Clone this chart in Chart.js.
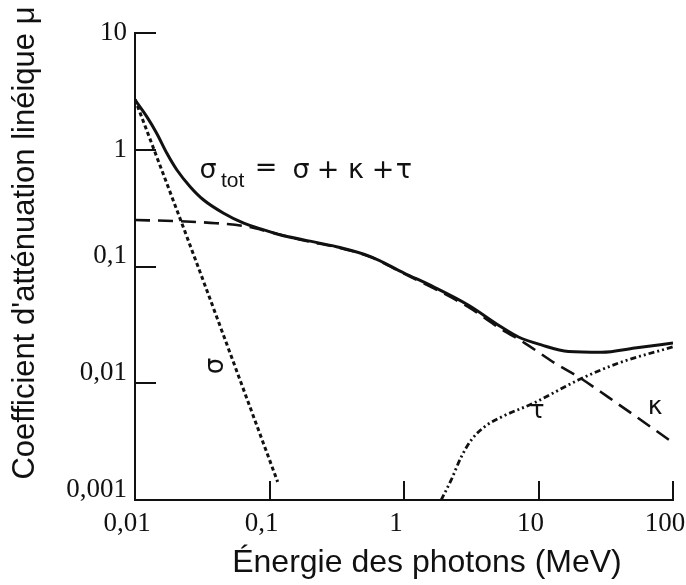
<!DOCTYPE html>
<html lang="fr">
<head>
<meta charset="utf-8">
<title>Coefficient d'atténuation linéique</title>
<script src="https://cdn.jsdelivr.net/npm/chart.js"></script>
<style>
  html, body { margin: 0; padding: 0; background: #fff; }
  #wrap { width: 686px; height: 585px; }
</style>
</head>
<body>
<div id="wrap"><canvas id="chart" width="686" height="585"></canvas></div>
<script>
// valeurs (E en MeV, mu)
const energyTotal = [0.01, 0.01223, 0.01452, 0.01726, 0.0205, 0.0257, 0.0324, 0.0456, 0.0643, 0.0908, 0.121, 0.18, 0.32, 0.57, 1, 1.67, 3, 5.3, 7.1, 10.5, 16.7, 29.5, 52, 100];
const muTotal = [2.67, 1.92, 1.38, 0.933, 0.671, 0.483, 0.371, 0.286, 0.235, 0.206, 0.186, 0.169, 0.147, 0.121, 0.088, 0.0667, 0.0468, 0.0303, 0.0249, 0.0213, 0.0187, 0.0184, 0.020, 0.0221];

const energyPhoto = [0.01, 0.0243, 0.115];
const muPhoto = [2.7, 0.18, 0.00143];

const energyCompton = [0.01, 0.02, 0.04, 0.065, 0.1, 0.18, 0.32, 0.57, 1, 1.67, 3, 5.3, 7.9, 13.2, 19.9, 33, 100];
const muCompton = [0.25, 0.245, 0.235, 0.222, 0.198, 0.167, 0.146, 0.12, 0.087, 0.065, 0.045, 0.029, 0.0221, 0.0149, 0.0113, 0.0076, 0.0031];

const energyPair = [1.89, 2.24, 2.66, 3.16, 3.95, 5.3, 9.3, 19.9, 39.5, 100];
const muPair = [0.001, 0.00148, 0.00233, 0.00326, 0.00422, 0.00514, 0.0068, 0.0107, 0.0149, 0.0205];

const xTickValues = [0.01, 0.1, 1, 10, 100];
const xTickLabels = ['0,01', '0,1', '1', '10', '100'];
const yTickValues = [0.001, 0.01, 0.1, 1, 10];
const yTickLabels = ['0,001', '0,01', '0,1', '1', '10'];

const serif = '"Liberation Serif", "Times New Roman", serif';
const sans = '"Liberation Sans", Arial, sans-serif';
const greek = '"DejaVu Sans", "Liberation Sans", sans-serif';

function toPoints(xs, ys) {
  return xs.map((x, i) => ({ x: x, y: ys[i] }));
}

function curve(data, dash, width) {
  return {
    data: data,
    borderColor: '#111',
    borderWidth: width,
    borderDash: dash,
    pointRadius: 0,
    fill: false,
    cubicInterpolationMode: 'monotone'
  };
}

// petits traits de graduation tournés vers l'intérieur
const innerTicks = {
  id: 'innerTicks',
  afterDraw(chart) {
    const ctx = chart.ctx;
    const xs = chart.scales.x;
    const ys = chart.scales.y;
    const area = chart.chartArea;
    ctx.save();
    ctx.strokeStyle = '#111';
    ctx.lineWidth = 2;
    ctx.beginPath();
    xTickValues.slice(1).forEach(v => {
      const px = Math.round(xs.getPixelForValue(v));
      ctx.moveTo(px, area.bottom);
      ctx.lineTo(px, area.bottom - 19);
    });
    yTickValues.slice(1).forEach(v => {
      const py = Math.round(ys.getPixelForValue(v));
      ctx.moveTo(area.left, py);
      ctx.lineTo(area.left + 21, py);
    });
    ctx.stroke();
    ctx.restore();
  }
};

// titres des axes et annotations
const annotations = {
  id: 'annotations',
  afterDraw(chart) {
    const ctx = chart.ctx;
    ctx.save();
    ctx.fillStyle = '#111';

    ctx.font = '31px ' + sans;
    ctx.textAlign = 'center';
    ctx.textBaseline = 'middle';
    ctx.save();
    ctx.translate(25, 243);
    ctx.rotate(-Math.PI / 2);
    ctx.fillText("Coefficient d'atténuation linéique μ", 0, 0);
    ctx.restore();

    ctx.font = '32px ' + sans;
    ctx.textBaseline = 'alphabetic';
    ctx.fillText('Énergie des photons (MeV)', 427, 572);

    // σtot = σ + κ + τ
    ctx.font = '27px ' + greek;
    ctx.fillText('σ', 208, 178);
    ctx.fillText('=', 266, 176);
    ctx.fillText('σ', 301, 178);
    ctx.fillText('+', 328, 178);
    ctx.fillText('κ', 356, 178);
    ctx.fillText('+', 383, 178);
    ctx.fillText('τ', 404, 178);
    ctx.textAlign = 'left';
    ctx.font = '21px ' + sans;
    ctx.fillText('tot', 221, 187);

    ctx.textAlign = 'center';
    ctx.textBaseline = 'middle';
    ctx.font = '26px ' + greek;
    ctx.save();
    ctx.translate(216, 366);
    ctx.rotate(-Math.PI / 2);
    ctx.fillText('σ', 0, 0);
    ctx.restore();

    ctx.font = '25px ' + greek;
    ctx.fillText('τ', 537, 411);
    ctx.fillText('κ', 655, 407);
    ctx.restore();
  }
};

new Chart(document.getElementById('chart'), {
  type: 'line',
  data: {
    datasets: [
      curve(toPoints(energyTotal, muTotal), [], 3),
      curve(toPoints(energyCompton, muCompton), [15, 8], 2.6),
      curve(toPoints(energyPhoto, muPhoto), [4, 3], 3),
      curve(toPoints(energyPair, muPair), [6, 3, 2, 3, 2, 3], 2.8)
    ]
  },
  options: {
    responsive: false,
    animation: false,
    layout: { padding: { top: 33, right: 13, left: 0, bottom: 0 } },
    plugins: {
      legend: { display: false },
      tooltip: { enabled: false }
    },
    scales: {
      x: {
        type: 'logarithmic',
        min: 0.01,
        max: 100,
        afterBuildTicks: s => { s.ticks = xTickValues.map(v => ({ value: v })); },
        afterFit: s => { s.height = 85; s.paddingLeft = 0; s.paddingRight = 0; },
        grid: { display: false, drawTicks: false },
        border: { display: true, color: '#111', width: 2 },
        ticks: {
          color: '#111',
          font: { family: serif, size: 27 },
          padding: 8,
          labelOffset: -8,
          maxRotation: 0,
          autoSkip: false,
          callback: v => xTickLabels[xTickValues.indexOf(v)]
        }
      },
      y: {
        type: 'logarithmic',
        min: 0.001,
        max: 10,
        afterBuildTicks: s => { s.ticks = yTickValues.map(v => ({ value: v })); },
        afterFit: s => { s.width = 135; s.paddingTop = 0; s.paddingBottom = 0; },
        grid: { display: false, drawTicks: false },
        border: { display: true, color: '#111', width: 2 },
        ticks: {
          color: '#111',
          font: { family: serif, size: 27, lineHeight: 0.75 },
          padding: 8,
          autoSkip: false,
          callback: v => {
            const label = yTickLabels[yTickValues.indexOf(v)];
            return label.includes(',') ? [label, ''] : label;
          }
        }
      }
    }
  },
  plugins: [innerTicks, annotations]
});
</script>
</body>
</html>
